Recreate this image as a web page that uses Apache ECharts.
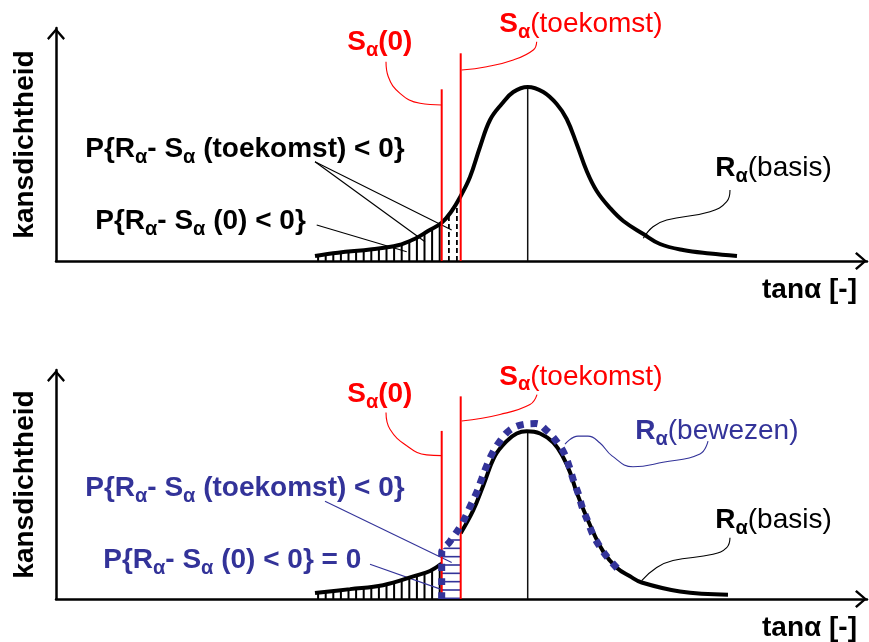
<!DOCTYPE html>
<html><head><meta charset="utf-8">
<script src="https://cdn.jsdelivr.net/npm/echarts@6/dist/echarts.min.js"></script>
<style>html,body{margin:0;padding:0;background:#fff}#c{width:869px;height:642px}</style>
</head><body><div id="c"></div>
<script>
// ---------------- data (tanα in arbitrary units, kansdichtheid in arbitrary units) ----------------
const sAlpha0 = 385.7;          // S_alpha(0)
const sAlphaToekomst = 404.7;   // S_alpha(toekomst)
const meanTan = 471.7;          // mean of R_alpha(basis)

const basisTopX = [259, 282, 316, 342, 359, 372, 385.7, 395.7, 404.7, 414, 424, 434, 445.7, 457.3, 471.7, 487.3, 500.7, 510.7, 520.7, 530.7, 540.7, 554, 567.3, 587.3, 604, 627, 654, 681];
const basisTopY = [5, 8.3, 11.7, 15.7, 22.3, 30, 38.3, 50, 65, 84, 114, 141, 157, 169, 174, 169, 157, 142, 117, 90, 70, 53, 40, 27, 17, 11, 7.5, 5];

const basisBotX = [259, 294, 327, 360.7, 374, 385.7, 404.7, 417.3, 427.3, 439, 450.7, 460.7, 470.7, 484, 497.3, 507.3, 514, 520.7, 534, 547.3, 560.7, 574, 585.7, 624, 672];
const basisBotY = [6, 10, 14, 24, 28.4, 36, 66.7, 90, 115, 145, 160, 167.7, 170, 167.7, 158.4, 143.4, 128.4, 108, 75, 48, 31.7, 23, 16.7, 7.7, 4.4];

const bewezenX = [385.7, 385.7, 394, 404.7, 409, 414.7, 420.7, 425.7, 430.7, 436.7, 444, 453.3, 466.7, 480, 491.3, 500.7, 508.3, 513.3, 517.3, 522.3, 526.3, 531.7, 536.7, 543.3, 551.3, 561.3];
const bewezenY = [0, 46.7, 58.3, 74, 82.3, 95, 108, 121.7, 135, 148.3, 160, 170.7, 176.7, 177.7, 170, 159.4, 147.4, 134, 120.7, 106.7, 92.7, 79, 65.7, 54, 42.4, 31];

const sLineTopHeights = [171.7, 207.7];   // [S(0), S(toekomst)] line lengths, upper panel
const sLineBotHeights = [170.3, 205.3];   // lower panel

// ---------------- helpers ----------------
const FONT = 'Liberation Sans, Arial, sans-serif';
const BLUE = '#333399', RED = '#ff0000', BLACK = '#000000';
const pairs = (xs, ys) => xs.map((x, i) => [x, ys[i]]);
const basisTop = pairs(basisTopX, basisTopY);
const basisBot = pairs(basisBotX, basisBotY);
const bewezen = pairs(bewezenX, bewezenY);

function makeCanvas(w, h, draw) {
  const c = document.createElement('canvas'); c.width = w; c.height = h;
  draw(c.getContext('2d')); return c;
}
const vHatch = makeCanvas(38, 4, g => { g.fillStyle = BLACK; [6.5, 14.1, 21.7, 29.3, 36.9].forEach(c => g.fillRect(c - 1, 0, 2, 4)); });
const dashV = makeCanvas(8, 8, g => { g.fillStyle = BLACK; g.fillRect(0, 0, 1.8, 5); });
const hBlue = makeCanvas(4, 25, g => { g.fillStyle = BLUE; [6.67, 15, 23.33].forEach(c => g.fillRect(0, c - 0.8, 4, 1.6)); });

function line(p, data, lineStyle, extra) {
  return Object.assign({ type: 'line', xAxisIndex: p, yAxisIndex: p, data: data, symbol: 'none', silent: true,
    clip: false, animation: false, lineStyle: lineStyle, z: 3 }, extra || {});
}
const SM = 0.4;
function area(p, data, img) {
  return line(p, data, { width: 0, opacity: 0 }, { smooth: SM, z: 1,
    areaStyle: { color: { image: img, repeat: 'repeat' }, opacity: 1 } });
}
function leader(p, pts, color) { return line(p, pts, { color: color, width: 1.1 }, { smooth: 0.45, z: 2 }); }
function rich(color) {
  return {
    s: { fontSize: 20, fontWeight: 'bold', fontFamily: FONT, color: color, padding: [16, 0, 0, 0], lineHeight: 12 },
    n: { fontSize: 28, fontWeight: 'normal', fontFamily: FONT, color: color }
  };
}
function labels(p, items) {
  return { type: 'scatter', xAxisIndex: p, yAxisIndex: p, symbolSize: 0.5, silent: true, clip: false, animation: false, z: 10,
    itemStyle: { color: '#ffffff', opacity: 1 },
    data: items.map(it => ({ value: [it.x, it.y], label: { show: true, position: 'right', distance: 0, opacity: 1,
      formatter: () => it.text, color: it.color, fontSize: 28, fontWeight: 'bold', fontFamily: FONT, rich: rich(it.color) } })) };
}
const chevron = 'path://M0,10.3 L9,0 L18,10.3 L16.3,12 L9,3.4 L1.7,12 Z';
function axisLine() {
  return { show: true, onZero: false, lineStyle: { color: BLACK, width: 2.5 }, symbol: ['none', chevron], symbolSize: [18, 12], symbolOffset: [0, -6] };
}
function xAx(p) {
  return { type: 'value', gridIndex: p, min: 0, max: 811, axisLine: axisLine(), axisTick: { show: false }, axisLabel: { show: false }, splitLine: { show: false },
    name: 'tanα [-]', nameLocation: 'end', nameGap: -10,
    nameTextStyle: { fontSize: 28, fontWeight: 'bold', fontFamily: FONT, color: BLACK, align: 'right', verticalAlign: 'top', padding: [15, 0, 0, 0] } };
}
function yAx(p, max) {
  return { type: 'value', gridIndex: p, min: 0, max: max, axisLine: axisLine(), axisTick: { show: false }, axisLabel: { show: false }, splitLine: { show: false },
    name: 'kansdichtheid', nameLocation: 'middle', nameGap: 31, nameRotate: 90,
    nameTextStyle: { fontSize: 28, fontWeight: 'bold', fontFamily: FONT, color: BLACK, verticalAlign: 'middle' } };
}
const peak = arr => Math.max.apply(null, arr);
const curve = (p, data, style, z) => line(p, data, style, { smooth: SM, z: z });

// ---------------- upper panel ----------------
const series = [];
series.push(area(0, basisTop.filter(d => d[0] <= sAlpha0), vHatch));
series.push(area(0, basisTop.filter(d => d[0] >= sAlpha0 && d[0] <= sAlphaToekomst), dashV));
series.push(line(0, [[meanTan, 0], [meanTan, peak(basisTopY)]], { color: '#111', width: 1.5 }, { z: 2 }));
series.push(curve(0, basisTop, { color: BLACK, width: 4 }, 4));
series.push(line(0, [[sAlpha0, 0], [sAlpha0, sLineTopHeights[0]]], { color: RED, width: 2 }, { z: 6 }));
series.push(line(0, [[sAlphaToekomst, 0], [sAlphaToekomst, sLineTopHeights[1]]], { color: RED, width: 2 }, { z: 6 }));
series.push(leader(0, [[330, 199.3], [332.3, 184.3], [344, 167.7], [364, 157.7], [385.7, 156]], RED));
series.push(leader(0, [[480.7, 219.3], [477.3, 211], [457.3, 201], [430.7, 194.3], [405.7, 191]], RED));
series.push(leader(0, [[259, 99.3], [369, 19.3]], BLACK));
series.push(leader(0, [[259, 99.3], [395.7, 31]], BLACK));
series.push(leader(0, [[260.7, 36], [350.7, 9.3]], BLACK));
series.push(leader(0, [[674, 71], [670.7, 59.3], [654, 49.3], [610.7, 41], [597, 34.3], [587.3, 22.7]], BLACK));
series.push(labels(0, [
  { x: 291, y: 219, text: 'S{s|α}(0)', color: RED },
  { x: 443, y: 237, text: 'S{s|α}{n|(toekomst)}', color: RED },
  { x: 29, y: 112, text: 'P{R{s|α}- S{s|α} (toekomst) < 0}', color: BLACK },
  { x: 39, y: 40, text: 'P{R{s|α}- S{s|α} (0) < 0}', color: BLACK },
  { x: 659, y: 93, text: 'R{s|α}{n|(basis)}', color: BLACK }
]));

// ---------------- lower panel ----------------
series.push(area(1, basisBot.filter(d => d[0] <= sAlpha0), vHatch));
series.push(area(1, bewezen.filter(d => d[0] <= sAlphaToekomst), hBlue));
series.push(line(1, [[meanTan, 0], [meanTan, peak(basisBotY)]], { color: '#111', width: 1.5 }, { z: 2 }));
series.push(curve(1, basisBot.filter(d => d[0] <= sAlpha0), { color: BLACK, width: 4 }, 4));
series.push(curve(1, basisBot.filter(d => d[0] >= sAlphaToekomst), { color: BLACK, width: 4 }, 4));
series.push(line(1, [[sAlpha0, 0], [sAlpha0, sLineBotHeights[0]]], { color: RED, width: 2 }, { z: 6 }));
series.push(line(1, [[sAlphaToekomst, 0], [sAlphaToekomst, sLineBotHeights[1]]], { color: RED, width: 2 }, { z: 6 }));
series.push(curve(1, bewezen, { color: BLUE, width: 7, type: [7, 7], cap: 'butt' }, 7));
series.push(leader(1, [[330, 189], [334, 172], [350.7, 155.3], [370.7, 146], [385.7, 145.3]], RED));
series.push(leader(1, [[481, 207], [474, 197], [444, 187], [405.7, 180.3]], RED));
series.push(leader(1, [[269, 99], [395.7, 37]], BLUE));
series.push(leader(1, [[314, 35.3], [387.3, 9]], BLUE));
series.push(leader(1, [[509, 157], [522, 165], [532, 165], [544, 158], [556, 145], [577, 134], [607, 138.5], [644, 147], [652, 160]], BLUE));
series.push(leader(1, [[674, 62], [670.7, 52], [657, 45.3], [617, 39], [600.7, 32], [585.7, 18.7]], BLACK));
series.push(labels(1, [
  { x: 291, y: 207, text: 'S{s|α}(0)', color: RED },
  { x: 443, y: 225, text: 'S{s|α}{n|(toekomst)}', color: RED },
  { x: 29, y: 112, text: 'P{R{s|α}- S{s|α} (toekomst) < 0}', color: BLUE },
  { x: 47, y: 39, text: 'P{R{s|α}- S{s|α} (0) < 0} = 0', color: BLUE },
  { x: 579, y: 170, text: 'R{s|α}{n|(bewezen)}', color: BLUE },
  { x: 659, y: 80, text: 'R{s|α}{n|(basis)}', color: BLACK }
]));

const chart = echarts.init(document.getElementById('c'), null, { renderer: 'canvas' });
chart.setOption({
  backgroundColor: '#ffffff',
  animation: false,
  grid: [
    { left: 56, right: 2, top: 28, height: 233 },
    { left: 56, right: 2, top: 370, height: 232 }
  ],
  xAxis: [xAx(0), xAx(1)],
  yAxis: [yAx(0, 233), yAx(1, 232)],
  series: series
});
</script></body></html>
